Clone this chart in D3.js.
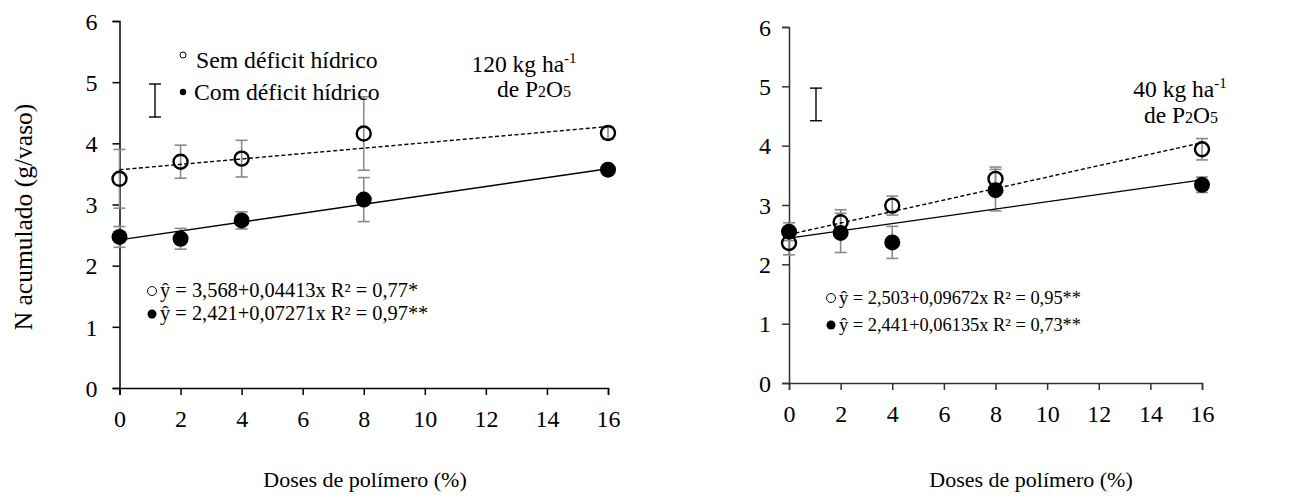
<!DOCTYPE html>
<html><head><meta charset="utf-8">
<script src="https://cdn.jsdelivr.net/npm/d3@7"></script>
<style>body{margin:0;background:#fff}svg{display:block}text{font-family:"Liberation Serif","Times New Roman",serif;fill:#000}</style>
</head><body>
<script>
// ---- data ----
const doses = [0, 2, 4, 8, 16];
const xTicks = [0, 2, 4, 6, 8, 10, 12, 14, 16];
const yTicks = [0, 1, 2, 3, 4, 5, 6];

const semLeft = [3.42, 3.70, 3.75, 4.16, 4.17];
const semLeftErr = [0.48, 0.27, 0.30, 0.60, 0.10];
const comLeft = [2.47, 2.44, 2.74, 3.08, 3.57];
const comLeftErr = [0.17, 0.17, 0.14, 0.36, 0.05];

const semRight = [2.36, 2.71, 2.99, 3.44, 3.94];
const semRightErr = [0.20, 0.21, 0.16, 0.20, 0.18];
const comRight = [2.55, 2.53, 2.37, 3.25, 3.34];
const comRightErr = [0.15, 0.33, 0.27, 0.35, 0.13];

const fitLeftSem = [3.568, 0.04413];
const fitLeftCom = [2.421, 0.07271];
const fitRightSem = [2.503, 0.09672];
const fitRightCom = [2.441, 0.06135];

const lsdLeft = [4.43, 4.97];
const lsdRight = [4.42, 4.97];

const eqLeft = ["ŷ = 3,568+0,04413x R² = 0,77*", "ŷ = 2,421+0,07271x R² = 0,97**"];
const eqRight = ["ŷ = 2,503+0,09672x R² = 0,95**", "ŷ = 2,441+0,06135x R² = 0,73**"];

const W = 1311, H = 498;
const svg = d3.select("body").append("svg").attr("width", W).attr("height", H);

function panel(cfg) {
  const x = d3.scaleLinear().domain([0, 16]).range(cfg.xr);
  const y = d3.scaleLinear().domain([0, 6]).range(cfg.yr);
  const g = svg.append("g");

  // axes
  const ax = g.append("g").attr("transform", `translate(0,${y(0)})`)
    .call(d3.axisBottom(x).tickValues(xTicks).tickSize(7).tickPadding(15).tickFormat(d3.format("d")));
  const ay = g.append("g").attr("transform", `translate(${x(0)},0)`)
    .call(d3.axisLeft(y).tickValues(yTicks).tickSize(7).tickPadding(cfg.ypad).tickFormat(d3.format("d")));
  [ax, ay].forEach(a => {
    a.attr("font-family", null);
    a.selectAll("path").attr("stroke", cfg.axisColor).attr("stroke-width", 1.5);
    a.selectAll("line").attr("stroke", cfg.axisColor).attr("stroke-width", 1.5);
    a.selectAll("text").style("font-family", '"Liberation Serif",serif').style("font-size", "24px").attr("fill", "#000");
  });
  ay.selectAll("text").attr("dy", "0.34em");

  // error bars
  const eb = (vals, errs) => {
    doses.forEach((d, i) => {
      const cx = x(d), y1 = y(vals[i] + errs[i]), y2 = y(vals[i] - errs[i]);
      g.append("line").attr("x1", cx).attr("x2", cx).attr("y1", y1).attr("y2", y2)
        .attr("stroke", "#8a8a8a").attr("stroke-width", 1.6);
      [y1, y2].forEach(yy => g.append("line").attr("x1", cx - 6).attr("x2", cx + 6).attr("y1", yy).attr("y2", yy)
        .attr("stroke", "#8a8a8a").attr("stroke-width", 1.6));
    });
  };
  eb(cfg.sem, cfg.semErr);
  eb(cfg.com, cfg.comErr);

  // fitted lines
  const fl = (c, dash) => g.append("line")
    .attr("x1", x(0)).attr("y1", y(c[0])).attr("x2", x(16)).attr("y2", y(c[0] + c[1] * 16))
    .attr("stroke", "#000").attr("stroke-width", 1.4).attr("stroke-dasharray", dash);
  fl(cfg.fitSem, "4,2.5");
  fl(cfg.fitCom, null);

  // markers
  g.selectAll(null).data(cfg.com).enter().append("circle")
    .attr("cx", (d, i) => x(doses[i])).attr("cy", d => y(d)).attr("r", 8).attr("fill", "#000");
  g.selectAll(null).data(cfg.sem).enter().append("circle")
    .attr("cx", (d, i) => x(doses[i])).attr("cy", d => y(d)).attr("r", 7).attr("fill", "none")
    .attr("stroke", "#000").attr("stroke-width", 2.4);

  // LSD bar
  const lx = cfg.lsdX, ly1 = y(cfg.lsd[1]), ly2 = y(cfg.lsd[0]);
  g.append("line").attr("x1", lx).attr("x2", lx).attr("y1", ly1).attr("y2", ly2).attr("stroke", "#000").attr("stroke-width", 1.4);
  [ly1, ly2].forEach(yy => g.append("line").attr("x1", lx - 6).attr("x2", lx + 6).attr("y1", yy).attr("y2", yy)
    .attr("stroke", "#000").attr("stroke-width", 1.4));

  // P label
  const t1 = g.append("text").attr("x", cfg.pX).attr("y", cfg.pY).style("font-size", "23.5px").attr("text-anchor", "middle");
  t1.append("tspan").text(cfg.pLabel + " kg ha");
  t1.append("tspan").attr("dy", -9).style("font-size", "15px").text("-1");
  const t2 = g.append("text").attr("x", cfg.pX + cfg.pdx).attr("y", cfg.pY + cfg.pGap).style("font-size", "23.5px").attr("text-anchor", "middle");
  t2.append("tspan").text("de P");
  t2.append("tspan").style("font-size", "16px").text("2");
  t2.append("tspan").text("O");
  t2.append("tspan").style("font-size", "16px").text("5");

  // equations
  cfg.eq.forEach((s, i) => {
    const by = cfg.eqY[i];
    g.append("circle").attr("cx", cfg.eqX - 8).attr("cy", by - 6).attr("r", 4.5)
      .attr("fill", i === 0 ? "#fff" : "#000").attr("stroke", "#000").attr("stroke-width", i === 0 ? 1 : 0);
    g.append("text").attr("x", cfg.eqX).attr("y", by).style("font-size", cfg.eqFont).text(s);
  });

  // x label
  g.append("text").attr("x", cfg.xLabX).attr("y", 487).attr("text-anchor", "middle").style("font-size", "22px")
    .text("Doses de polímero (%)");
  return {x, y, g};
}

const L = panel({
  xr: [119.5, 608], yr: [388, 21], ypad: 15, axisColor: "#000",
  sem: semLeft, semErr: semLeftErr, com: comLeft, comErr: comLeftErr,
  fitSem: fitLeftSem, fitCom: fitLeftCom, lsd: lsdLeft, lsdX: 155,
  pLabel: "120", pX: 524, pY: 72, pGap: 25, pdx: 10,
  eq: eqLeft, eqX: 160, eqY: [297, 320], eqFont: "20.4px", xLabX: 365
});
const R = panel({
  xr: [789, 1202], yr: [383, 27], ypad: 11, axisColor: "#333",
  sem: semRight, semErr: semRightErr, com: comRight, comErr: comRightErr,
  fitSem: fitRightSem, fitCom: fitRightCom, lsd: lsdRight, lsdX: 816,
  pLabel: "40", pX: 1180, pY: 97, pGap: 26, pdx: 1,
  eq: eqRight, eqX: 839, eqY: [304, 331], eqFont: "18.4px", xLabX: 1031
});

// legend (left panel)
const lg = svg.append("g");
lg.append("circle").attr("cx", 183).attr("cy", 55).attr("r", 3).attr("fill", "#fff").attr("stroke", "#000").attr("stroke-width", 1);
lg.append("text").attr("x", 196).attr("y", 68).style("font-size", "23.7px").text("Sem déficit hídrico");
lg.append("circle").attr("cx", 183).attr("cy", 92).attr("r", 3.2).attr("fill", "#000");
lg.append("text").attr("x", 194).attr("y", 100).style("font-size", "23.7px").text("Com déficit hídrico");

// y label
svg.append("text").attr("transform", "translate(32,217) rotate(-90)").attr("text-anchor", "middle")
  .style("font-size", "25.5px").text("N acumulado (g/vaso)");
</script>
</body></html>
